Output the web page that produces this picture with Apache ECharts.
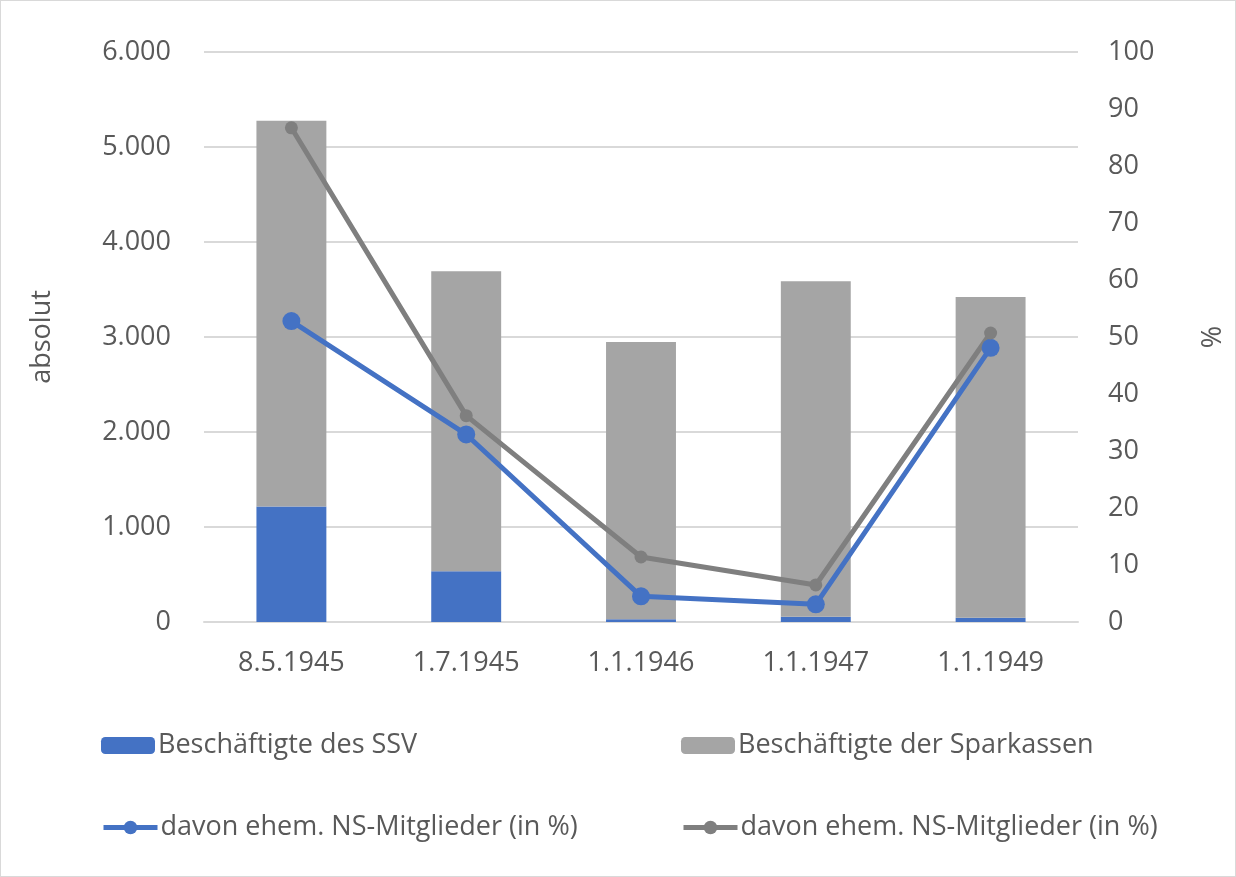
<!DOCTYPE html>
<html>
<head>
<meta charset="utf-8">
<script src="https://cdn.jsdelivr.net/npm/echarts@6/dist/echarts.min.js"></script>
<style>
  html, body { margin: 0; padding: 0; background: #fff; }
  #chart { width: 1236px; height: 877px; box-sizing: border-box; border: 1px solid #d9d9d9; }
</style>
</head>
<body>
<div id="chart"></div>
<script>
// Kategorien (Stichtage)
const dates = ['8.5.1945', '1.7.1945', '1.1.1946', '1.1.1947', '1.1.1949'];
// Beschäftigte absolut
const ssvStaff = [1217, 535, 30, 55, 45];
const sparkassenStaff = [4060, 3157, 2918, 3533, 3375];
// davon ehem. NS-Mitglieder in %
const ssvNsShare = [52.8, 32.9, 4.5, 3.1, 48.1];
const sparkassenNsShare = [86.7, 36.2, 11.4, 6.5, 50.7];

const nameSsv = 'Beschäftigte des SSV';
const nameSk = 'Beschäftigte der Sparkassen';
// zweiter Name mit Leerzeichen, damit die Legende beide Einträge kennt
const nameNs1 = 'davon ehem. NS-Mitglieder (in %)';
const nameNs2 = 'davon ehem. NS-Mitglieder (in %) ';

const textColor = '#595959';
const font = 'Open Sans';
const fs = 27;

const chart = echarts.init(document.getElementById('chart'));

function legendAt(name, left, top, lineColor) {
  return {
    data: [name],
    left: left,
    top: top,
    itemWidth: 54,
    itemHeight: 17,
    itemGap: 0,
    padding: 0,
    formatter: n => n.trim(),
    lineStyle: { width: 5 },
    textStyle: { color: textColor, fontSize: fs, fontFamily: font, padding: [0, 0, 0, -2] }
  };
}

chart.setOption({
  animation: false,
  textStyle: { fontFamily: font },
  grid: { left: 203, right: 156, top: 51, bottom: 254 },
  legend: [
    legendAt(nameSsv, 100, 731),
    legendAt(nameSk, 680, 731),
    legendAt(nameNs1, 100, 813),
    legendAt(nameNs2, 680, 813)
  ],
  xAxis: {
    type: 'category',
    data: dates,
    axisLine: { show: true, lineStyle: { color: '#d9d9d9', width: 2 } },
    axisTick: { show: false },
    axisLabel: { color: textColor, fontSize: fs, margin: 28 }
  },
  yAxis: [
    {
      type: 'value',
      min: 0, max: 6000, interval: 1000,
      name: 'absolut',
      nameLocation: 'middle',
      nameRotate: 90,
      nameGap: 148,
      nameTextStyle: { color: textColor, fontSize: fs },
      axisLabel: {
        color: textColor, fontSize: fs, margin: 33,
        formatter: v => v === 0 ? '0' : (v / 1000) + '.000'
      },
      splitLine: { lineStyle: { color: '#d9d9d9', width: 2 } }
    },
    {
      type: 'value',
      min: 0, max: 100, interval: 10,
      name: '%',
      nameLocation: 'middle',
      nameRotate: 90,
      nameGap: 122,
      nameTextStyle: { color: textColor, fontSize: fs },
      axisLabel: { color: textColor, fontSize: fs, margin: 30 },
      splitLine: { show: false }
    }
  ],
  series: [
    {
      name: nameSsv,
      type: 'bar',
      stack: 'staff',
      barWidth: '40%',
      data: ssvStaff,
      itemStyle: { color: '#4472C4' }
    },
    {
      name: nameSk,
      type: 'bar',
      stack: 'staff',
      barWidth: '40%',
      data: sparkassenStaff,
      itemStyle: { color: '#A5A5A5' }
    },
    {
      name: nameNs1,
      type: 'line',
      yAxisIndex: 1,
      data: ssvNsShare,
      symbol: 'circle',
      symbolSize: 18,
      lineStyle: { color: '#4472C4', width: 5 },
      itemStyle: { color: '#4472C4' }
    },
    {
      name: nameNs2,
      type: 'line',
      yAxisIndex: 1,
      data: sparkassenNsShare,
      symbol: 'circle',
      symbolSize: 13,
      lineStyle: { color: '#7F7F7F', width: 5 },
      itemStyle: { color: '#7F7F7F' }
    }
  ]
});
</script>
</body>
</html>
